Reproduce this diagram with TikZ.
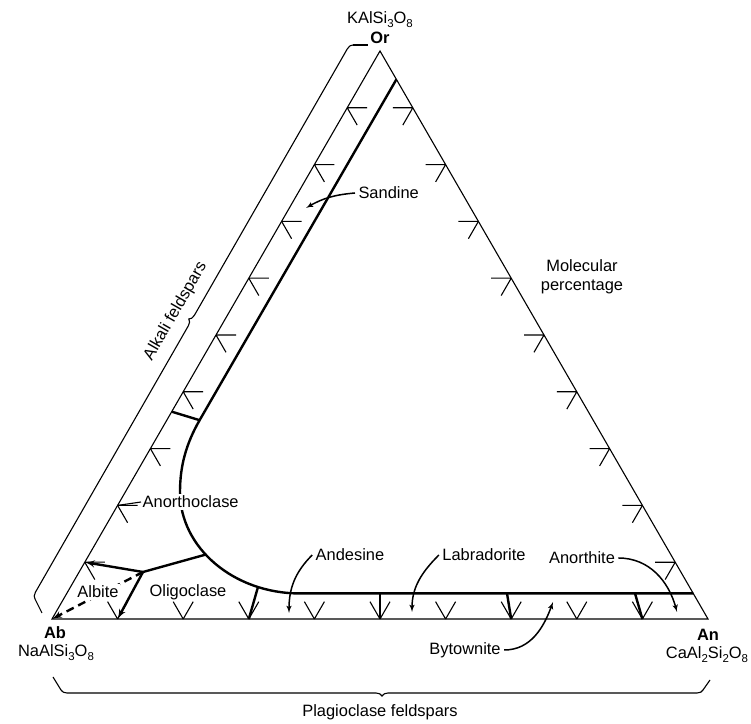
\documentclass[tikz,border=0pt]{standalone}
\usepackage{fontspec}
\setmainfont{Liberation Sans}
\usetikzlibrary{arrows,calc,decorations.pathreplacing}
\newcommand{\chsub}[1]{\raisebox{-0.45ex}{\fontsize{11.5}{12}\selectfont #1}}
\begin{document}
\begin{tikzpicture}[x=1bp,y=1bp,font=\fontsize{16.5}{19}\selectfont]
\tikzset{side/.style = {line width=1.1bp}}
\tikzset{tickline/.style = {line width=1.1bp}}
\tikzset{bound/.style = {line width=2.4bp}}
\tikzset{pointer/.style = {->,> = latex',line width=1.5bp}}
\tikzset{bracket/.style = {line width=1.1bp}}
\tikzset{vlbl/.style = {font=\fontsize{16.5}{19}\selectfont\bfseries}}
\tikzset{field/.style = {fill=white,inner sep=1.5bp}}
\useasboundingbox (0,0) rectangle (751,724);
\coordinate (Ab) at (52,105);
\coordinate (An) at (708,105);
\coordinate (Or) at (380,673);
\draw[side] (Ab) -- (Or) -- (An) -- cycle;
\foreach \i in {1,...,9} {
  \draw[tickline] ($(Ab)!\i/10!(An)$) -- ++(60:20) ($(Ab)!\i/10!(An)$) -- ++(120:20);
  \draw[tickline] ($(An)!\i/10!(Or)$) -- ++(180:20) ($(An)!\i/10!(Or)$) -- ++(240:20);
  \draw[tickline] ($(Or)!\i/10!(Ab)$) -- ++(0:20) ($(Or)!\i/10!(Ab)$) -- ++(300:20);
}
% field boundaries
\coordinate (s1) at ($(Or)!0.05!(An)$);
\coordinate (k0) at ($(Ab)!0.365!(Or)$);
\coordinate (k1) at (barycentric cs:Or=0.35,An=0.05,Ab=0.60);
\coordinate (c1) at (180,232);
\coordinate (j1) at (barycentric cs:Or=0.045,Ab=0.6,An=0.355);
\coordinate (r1) at ($(An)!0.045!(Or)$);
\draw[bound] (s1) -- (k1) .. controls (186,280) and (180,258) .. (c1)
  .. controls (180,176) and (234,130.6) .. (j1) -- (r1);
\draw[bound] (k0) -- (k1);
\coordinate (a1) at (143,152);
\coordinate (a2) at (206,169.5);
\draw[bound] (a1) -- (a2);
\draw[bound,->,>=latex'] (a1) -- ($(Ab)!0.1!(Or)$);
\draw[bound,->,>=latex'] (a1) -- ($(Ab)!0.1!(An)$);
\draw[bound,dash pattern=on 8bp off 5bp,->,>=latex'] (a1) -- (Ab);
\coordinate (t3) at (258,137);
\coordinate (t5) at (380,130.6);
\coordinate (t7) at (507,130.6);
\coordinate (t9) at (635,130.6);
\draw[bound] (t3) -- ($(Ab)!0.3!(An)$);
\draw[bound] (t5) -- ($(Ab)!0.5!(An)$);
\draw[bound] (t7) -- ($(Ab)!0.7!(An)$);
\draw[bound] (t9) -- ($(Ab)!0.9!(An)$);
% vertices
\node (ksi) at (380,704) {KAlSi\chsub{3}O\chsub{8}};
\node[vlbl] (or) at (380,686) {Or};
\node[vlbl] (ab) at (55,91) {Ab};
\node (nasi) at (56,71) {NaAlSi\chsub{3}O\chsub{8}};
\node[vlbl] (an) at (708,89) {An};
\node (casi) at (707,69) {CaAl\chsub{2}Si\chsub{2}O\chsub{8}};
% fields
\node[anchor=west] (sand) at (355,531) {Sandine};
\coordinate (sandtip) at (306,516);
\draw[pointer] (sand.west) to[out=185,in=30] (sandtip);
\node[field,anchor=west] (anoc) at (141,222) {Anorthoclase};
\draw[tickline] (anoc.west) -- ($(Ab)!0.2!(Or)$);
\node[field] (albi) at (98,132) {Albite};
\node (olig) at (188,132) {Oligoclase};
\node (ande) at (350,169) {Andesine};
\coordinate (andetip) at (289,111);
\draw[pointer] (ande.west) to[out=225,in=90] (andetip);
\node (labr) at (484,169) {Labradorite};
\coordinate (labrtip) at (412,112);
\draw[pointer] (labr.west) to[out=225,in=90] (labrtip);
\node (anor) at (582,166) {Anorthite};
\coordinate (anortip) at (677,112);
\draw[pointer] (anor.east) to[out=0,in=105] (anortip);
\node (byto) at (465,74) {Bytownite};
\coordinate (bytotip) at (553,122);
\draw[pointer] (byto.east) to[out=0,in=250] (bytotip);
\node[align=center] (molp) at (582,447) {Molecular\\percentage};
% brackets
\coordinate (bk1) at (42,111);
\coordinate (bk2) at (35,125);
\coordinate (bk3) at (353,679);
\coordinate (bk4) at (368,679);
\draw[bracket] (bk1) -- (bk2);
\draw[bracket,decorate,decoration={brace,amplitude=6bp}] (bk2) -- (bk3);
\draw[bracket] (bk3) -- (bk4);
\path (bk2) -- (bk3) node[midway,sloped,above=10bp] (alkf) {Alkali feldspars};
\coordinate (bp1) at (53,47);
\coordinate (bp2) at (61,34);
\coordinate (bp3) at (703,34);
\coordinate (bp4) at (710,44);
\draw[bracket] (bp1) -- (bp2);
\draw[bracket,decorate,decoration={brace,amplitude=6bp}] (bp3) -- (bp2);
\draw[bracket] (bp3) -- (bp4);
\node (plag) at (380,12) {Plagioclase feldspars};
\end{tikzpicture}
\end{document}
